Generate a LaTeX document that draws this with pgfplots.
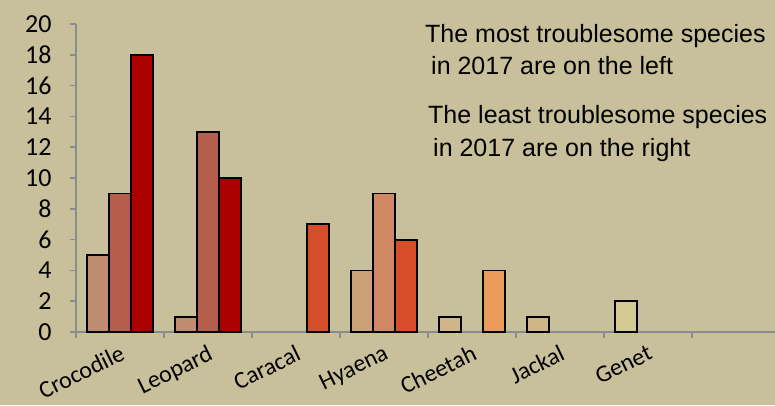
\documentclass[border=0pt]{standalone}
\usepackage{fontspec}
\setmainfont{Carlito}
\newfontfamily\arialfont{Liberation Sans}
\usepackage{pgfplots}
\pgfplotsset{compat=1.18}

\definecolor{bg}{RGB}{200,192,155}
\definecolor{axgray}{RGB}{140,140,140}
\definecolor{c1}{RGB}{192,140,112}
\definecolor{c2}{RGB}{181,94,75}
\definecolor{c3}{RGB}{170,0,0}
\definecolor{c4}{RGB}{214,77,43}
\definecolor{c5}{RGB}{201,160,120}
\definecolor{c6}{RGB}{207,135,100}
\definecolor{c7}{RGB}{208,181,136}
\definecolor{c8}{RGB}{235,155,90}
\definecolor{c9}{RGB}{212,201,145}

\begin{document}
\begin{tikzpicture}[x=1pt,y=1pt]
  \fill[bg] (0,0) rectangle (775,405);
  \begin{axis}[
      at={(76pt,73pt)}, anchor=south west,
      scale only axis, width=699pt, height=308pt,
      xmin=0, xmax=7.943, ymin=0, ymax=20,
      axis lines*=left,
      axis line style={draw=axgray, line width=1.6pt},
      tick style={draw=axgray, line width=1.6pt},
      tick align=outside, major tick length=6pt,
      ytick={0,2,...,20},
      /pgf/number format/assume math mode=true,
      yticklabel style={font=\fontsize{26}{26}\selectfont, xshift=-15pt},
      xtick={0,1,...,7}, xticklabels={},
      extra x ticks={0.5,1.5,...,6.5},
      extra x tick labels={Crocodile,Leopard,Caracal,Hyaena,Cheetah,Jackal,Genet},
      extra x tick style={major tick length=0pt},
      xticklabel style={font=\fontsize{24}{24}\selectfont, rotate=26, anchor=north east, xshift=-3pt, yshift=-7pt},
      ybar, bar width=0.25,
      every axis plot/.append style={draw=black, line width=1.8pt},
      clip=false,
    ]
    % first bar of each group
    \addplot[bar shift=-0.25, fill=c1] coordinates {(0.5,5) (1.5,1)};
    \addplot[bar shift=-0.25, fill=c5] coordinates {(3.5,4)};
    \addplot[bar shift=-0.25, fill=c7] coordinates {(4.5,1) (5.5,1)};
    \addplot[bar shift=-0.25, fill=c9] coordinates {(6.5,2)};
    % middle bar
    \addplot[bar shift=0, fill=c2] coordinates {(0.5,9) (1.5,13)};
    \addplot[bar shift=0, fill=c6] coordinates {(3.5,9)};
    % last bar
    \addplot[bar shift=0.25, fill=c3] coordinates {(0.5,18) (1.5,10)};
    \addplot[bar shift=0.25, fill=c4] coordinates {(2.5,7) (3.5,6)};
    \addplot[bar shift=0.25, fill=c8] coordinates {(4.5,4)};
  \end{axis}
  \begin{scope}[every node/.style={anchor=base west, inner sep=0pt, font=\arialfont\fontsize{25}{25}\selectfont}]
    \node at (425,362) {The most troublesome species};
    \node at (431,330) {in 2017 are on the left};
    \node at (428,281) {The least troublesome species};
    \node at (433,249) {in 2017 are on the right};
  \end{scope}
  \pgfresetboundingbox
  \path[use as bounding box] (0,0) rectangle (775,405);
\end{tikzpicture}
\end{document}
